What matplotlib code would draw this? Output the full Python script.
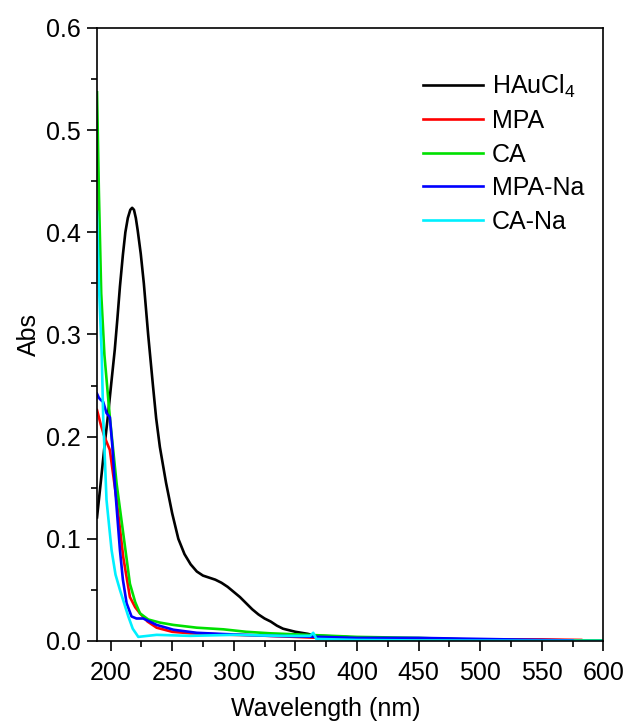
import matplotlib
matplotlib.use("Agg")
import matplotlib.pyplot as plt
from matplotlib.ticker import MultipleLocator

plt.rcParams['font.family'] = ['Liberation Sans', 'DejaVu Sans']
plt.rcParams['mathtext.fontset'] = 'custom'
plt.rcParams['mathtext.rm'] = 'Liberation Sans'
plt.rcParams['mathtext.default'] = 'regular'

# HAuCl4
black_x = [189, 192, 195, 198, 200.8, 203.4, 205.5, 207.6, 210, 212, 214, 216, 217.5, 219,
           220.5, 222, 224.5, 227, 230.5, 234.4, 237, 240, 245, 250, 255, 260, 265, 270,
           275, 280, 285, 290, 295, 300, 305, 310, 315, 320, 325, 330, 335, 340, 350, 360,
           365, 370, 380, 390, 400, 420, 450, 500, 550, 600]
black_y = [0.121, 0.155, 0.19, 0.222, 0.255, 0.285, 0.315, 0.347, 0.378, 0.400, 0.414,
           0.422, 0.424, 0.422, 0.414, 0.402, 0.379, 0.350, 0.300, 0.250, 0.218, 0.190,
           0.155, 0.125, 0.100, 0.085, 0.075, 0.068, 0.064, 0.062, 0.060, 0.057, 0.053,
           0.048, 0.043, 0.037, 0.031, 0.026, 0.022, 0.019, 0.015, 0.012, 0.009, 0.007,
           0.0055, 0.005, 0.0045, 0.004, 0.003, 0.0015, 0.0008, 0.0004, 0.0002, 0.0001]

# MPA
red_x = [189, 192, 195, 199.4, 204.9, 210.3, 215.7, 220, 223.9, 230, 237.4, 250, 264.5,
         300, 329.5, 370, 400, 450, 500, 550, 582]
red_y = [0.226, 0.212, 0.20, 0.187, 0.138, 0.082, 0.043, 0.033, 0.027, 0.019, 0.013, 0.009,
         0.0075, 0.006, 0.005, 0.003, 0.002, 0.002, 0.0015, 0.0015, 0.001]

# CA
green_x = [189, 190.5, 192.4, 195, 199.4, 204.9, 210.3, 215.7, 220, 223.9, 230.6, 240, 251,
           270, 291.6, 310, 329.5, 360, 400, 450, 500, 550, 600]
green_y = [0.537, 0.44, 0.34, 0.28, 0.219, 0.154, 0.105, 0.056, 0.038, 0.027, 0.021, 0.018,
           0.0157, 0.013, 0.0114, 0.009, 0.0075, 0.006, 0.004, 0.003, 0.001, 0.0005, 0.0003]

# MPA-Na
blue_x = [189, 190.5, 192, 194, 196.7, 199.4, 201.5, 203.4, 207.6, 210, 213, 217, 221, 226.5,
          237.4, 251, 270, 291.6, 329.5, 370, 400, 450, 500, 550, 575]
blue_y = [0.242, 0.238, 0.236, 0.234, 0.223, 0.219, 0.19, 0.154, 0.089, 0.06, 0.037, 0.024,
          0.022, 0.022, 0.0157, 0.011, 0.008, 0.0068, 0.005, 0.004, 0.003, 0.003, 0.002,
          0.001, 0.0005]

# CA-Na
cyan_x = [189, 190.5, 192.8, 194, 196.7, 200.8, 204, 207.6, 214.4, 218, 222.5, 230, 237.4,
          264.5, 300, 340, 362, 364.5, 367, 400, 450, 500, 550, 600]
cyan_y = [0.42, 0.35, 0.281, 0.219, 0.138, 0.089, 0.065, 0.05, 0.024, 0.012, 0.004, 0.005,
          0.006, 0.005, 0.006, 0.005, 0.005, 0.008, 0.002, 0.001, 0.0005, 0.0003, 0.0002,
          0.0001]

fig = plt.figure(figsize=(6.28, 7.25), dpi=100)
ax = fig.add_axes([0.1545, 0.1159, 0.8062, 0.8455])

lw = 1.9
ax.plot(black_x, black_y, color='black', lw=lw, label=r'HAuCl$_4$')
ax.plot(red_x, red_y, color='#ff0000', lw=lw, label='MPA')
ax.plot(green_x, green_y, color='#00e000', lw=lw, label='CA')
ax.plot(blue_x, blue_y, color='#0000ff', lw=lw, label='MPA-Na')
ax.plot(cyan_x, cyan_y, color='#00f0ff', lw=lw, label='CA-Na')

ax.set_xlim(189, 600)
ax.set_ylim(0, 0.6)
ax.xaxis.set_major_locator(MultipleLocator(50))
ax.xaxis.set_minor_locator(MultipleLocator(25))
ax.yaxis.set_major_locator(MultipleLocator(0.1))
ax.yaxis.set_minor_locator(MultipleLocator(0.05))
ax.yaxis.set_major_formatter(plt.FormatStrFormatter('%.1f'))
ax.tick_params(which='both', direction='out', width=1.2, labelsize=18)
ax.tick_params(which='major', length=7.5, pad=4)
ax.tick_params(axis='x', which='major', pad=7)
ax.tick_params(which='minor', length=4)
for s in ax.spines.values():
    s.set_linewidth(1.2)

ax.set_xlabel('Wavelength (nm)', fontsize=18)
ax.xaxis.set_label_coords(0.452, -0.091)
ax.set_ylabel('Abs', fontsize=18, labelpad=4)

leg = ax.legend(loc='upper left', bbox_to_anchor=(0.62, 0.948), frameon=False,
                fontsize=18, handlelength=2.4, handletextpad=0.35,
                labelspacing=0.38, borderpad=0)

fig.savefig('out.png', dpi=100)
